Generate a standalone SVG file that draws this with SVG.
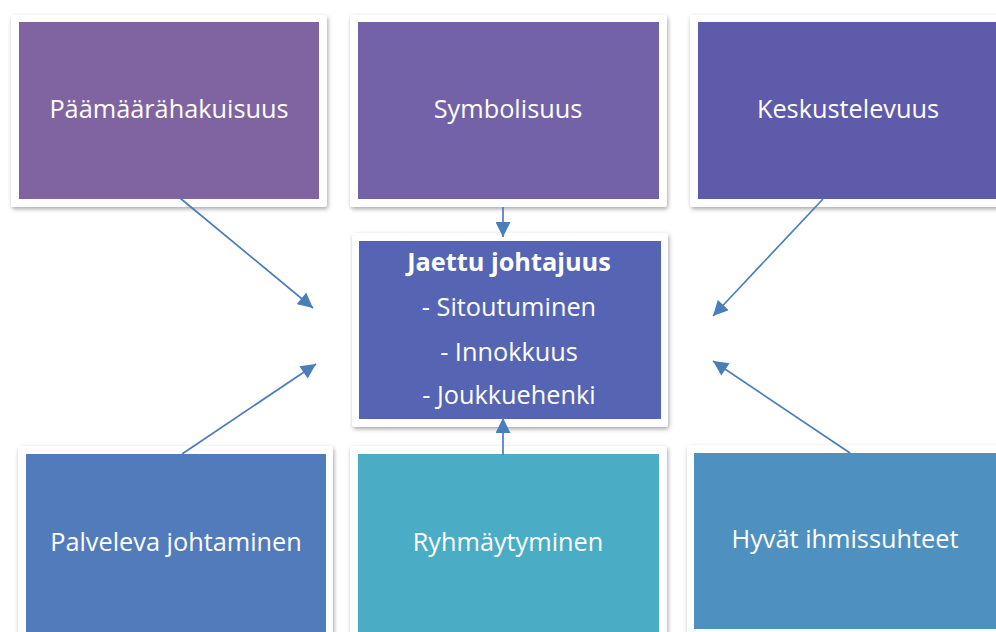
<svg xmlns="http://www.w3.org/2000/svg" width="996" height="632" viewBox="0 0 996 632">
<defs>
<filter id="sh" x="-10%" y="-10%" width="120%" height="125%">
<feDropShadow dx="1" dy="2" stdDeviation="2" flood-color="#000" flood-opacity="0.35"/>
</filter>
<marker id="ah2" viewBox="0 0 10 10" refX="10" refY="5" markerWidth="16" markerHeight="15" markerUnits="userSpaceOnUse" orient="auto">
<path d="M0,0 L10,5 L0,10 z" fill="#4A7EBB"/>
</marker>
</defs>
<style>
.frame{fill:#fff;filter:url(#sh)}
.lbl{font-family:"Open Sans","Noto Sans",sans-serif;font-size:25.3px;fill:#fff;text-anchor:middle}
.b{font-weight:bold}
.conn{stroke:#4A7EBB;stroke-width:1.7;fill:none;marker-end:url(#ah2)}
</style>
<rect width="996" height="632" fill="#fff"/>
<g id="n-paamaara">
<rect class="frame" x="11" y="15" width="316" height="192" rx="3"/>
<rect x="19" y="22" width="300" height="177" fill="#8064A2"/>
<text class="lbl" x="169" y="118">Päämäärähakuisuus</text>
</g>
<g id="n-symbolisuus">
<rect class="frame" x="350" y="15" width="317" height="192" rx="3"/>
<rect x="358" y="22" width="301" height="177" fill="#7362A8"/>
<text class="lbl" x="508" y="118">Symbolisuus</text>
</g>
<g id="n-keskustelevuus">
<rect class="frame" x="690" y="15" width="320" height="192" rx="3"/>
<rect x="698" y="22" width="310" height="177" fill="#5F5BAB"/>
<text class="lbl" x="848" y="118">Keskustelevuus</text>
</g>
<g id="n-jaettu">
<rect class="frame" x="352" y="233" width="316" height="194" rx="3"/>
<rect x="359" y="241" width="302" height="178" fill="#5565B3"/>
<text class="lbl b" x="509" y="271">Jaettu johtajuus</text>
<text class="lbl" x="509" y="316">- Sitoutuminen</text>
<text class="lbl" x="509" y="361">- Innokkuus</text>
<text class="lbl" x="509" y="404">- Joukkuehenki</text>
</g>
<g id="n-palveleva">
<rect class="frame" x="18" y="446" width="315" height="200" rx="3"/>
<rect x="26" y="454" width="300" height="190" fill="#527BBB"/>
<text class="lbl" x="176" y="551">Palveleva johtaminen</text>
</g>
<g id="n-ryhmaytyminen">
<rect class="frame" x="350" y="446" width="317" height="200" rx="3"/>
<rect x="358" y="454" width="301" height="190" fill="#4BACC6"/>
<text class="lbl" x="508" y="551">Ryhmäytyminen</text>
</g>
<g id="n-hyvat">
<rect class="frame" x="687" y="445" width="320" height="191" rx="3"/>
<rect x="694" y="453" width="312" height="176" fill="#4E90C0"/>
<text class="lbl" x="845" y="548">Hyvät ihmissuhteet</text>
</g>
<g id="connectors">
<line class="conn" x1="180" y1="198" x2="313" y2="308"/>
<line class="conn" x1="503" y1="207" x2="503" y2="237"/>
<line class="conn" x1="823" y1="199" x2="713" y2="316"/>
<line class="conn" x1="182" y1="454" x2="316" y2="364"/>
<line class="conn" x1="503" y1="455" x2="503" y2="418"/>
<line class="conn" x1="850" y1="453" x2="713" y2="361"/>
</g>
</svg>
